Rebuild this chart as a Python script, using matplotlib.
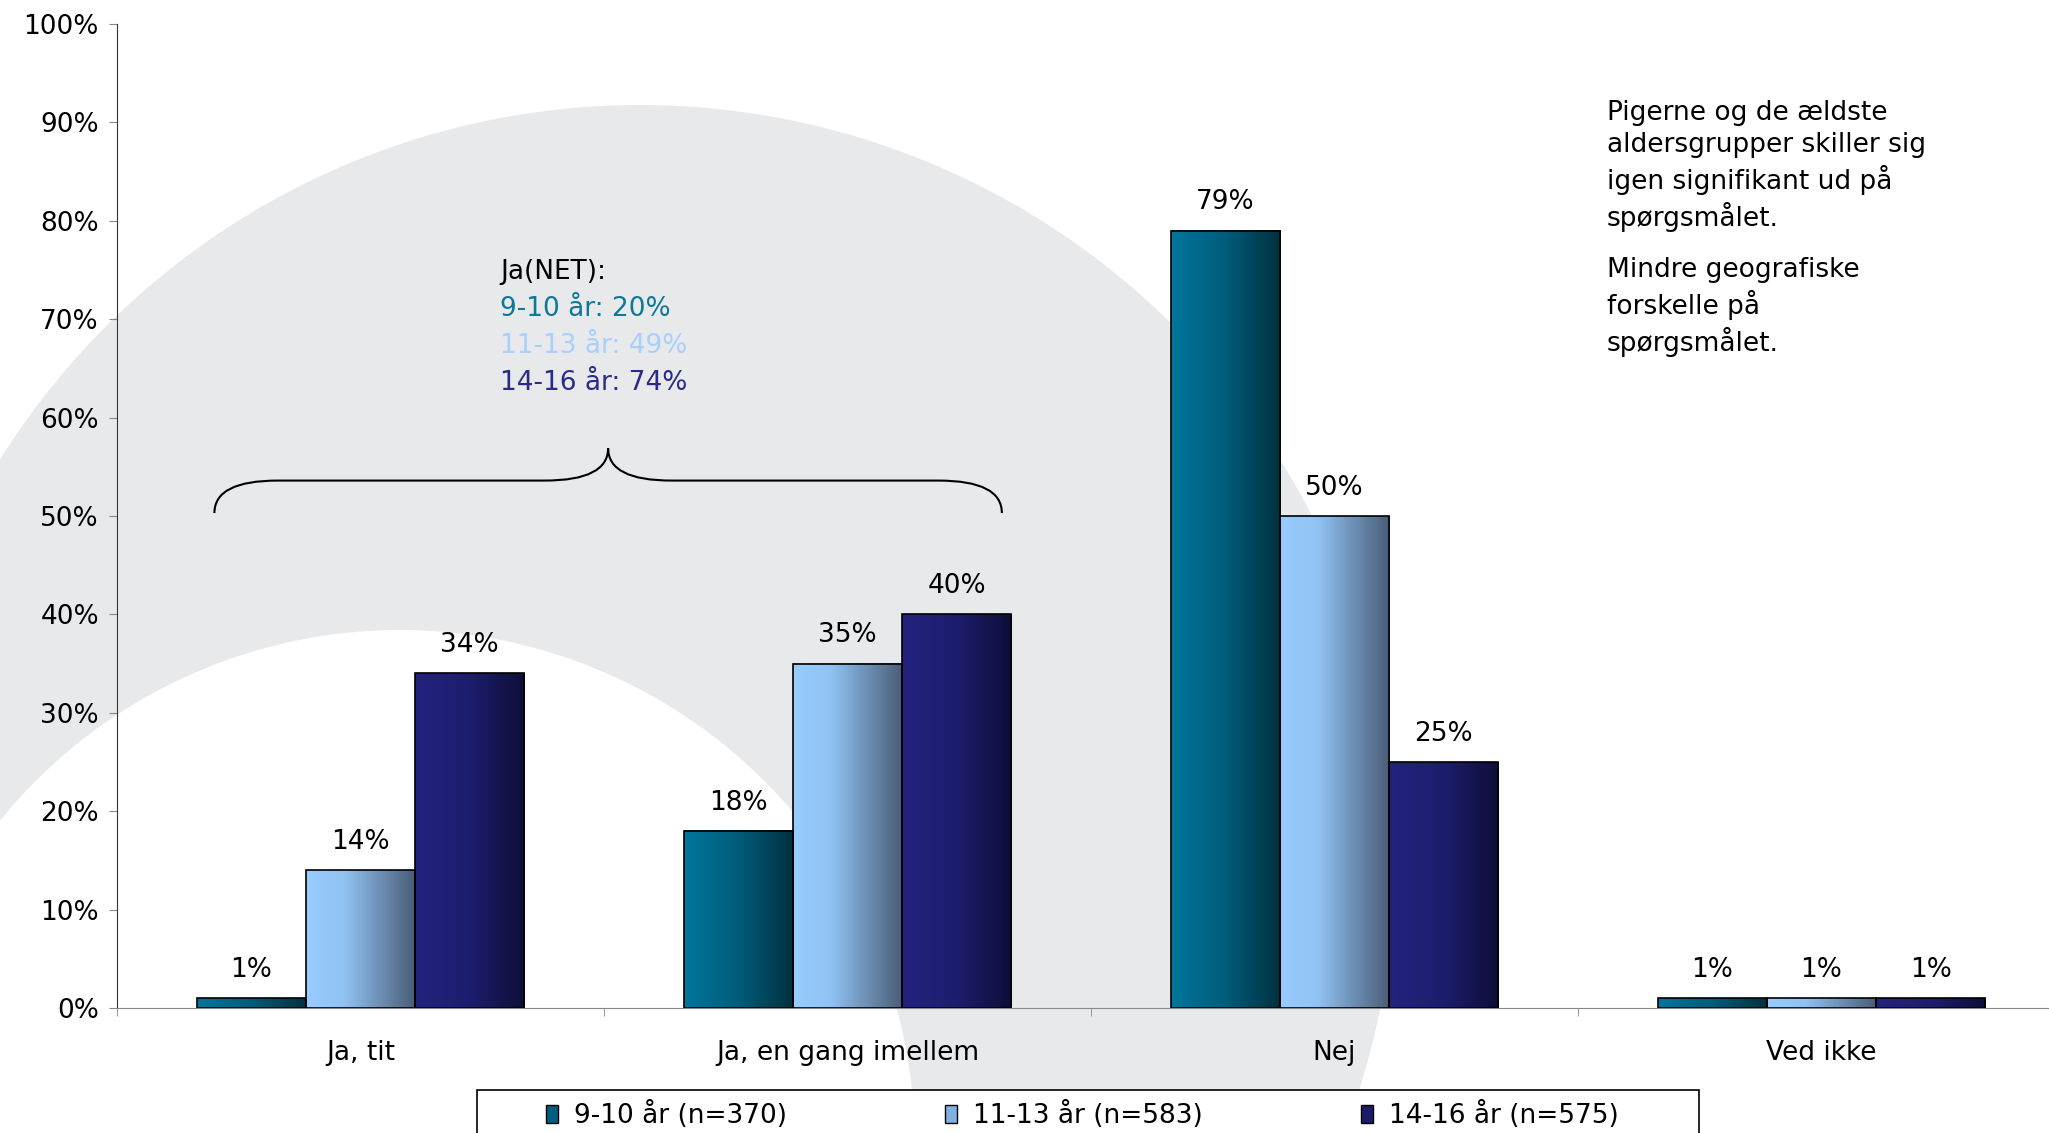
import numpy as np
import matplotlib
matplotlib.use('Agg')
import matplotlib.pyplot as plt
from matplotlib.colors import LinearSegmentedColormap
from matplotlib.patches import Ellipse, Rectangle, Patch, PathPatch
from matplotlib.path import Path

# Data
categories = ['Ja, tit', 'Ja, en gang imellem', 'Nej', 'Ved ikke']
series_labels = ['9-10 år (n=370)', '11-13 år (n=583)', '14-16 år (n=575)']
age_9_10 = [1, 18, 79, 1]
age_11_13 = [14, 35, 50, 1]
age_14_16 = [34, 40, 25, 1]
net_labels = ['9-10 år: 20%', '11-13 år: 49%', '14-16 år: 74%']
note_1 = 'Pigerne og de ældste\naldersgrupper skiller sig\nigen signifikant ud på\nspørgsmålet.'
note_2 = 'Mindre geografiske\nforskelle på\nspørgsmålet.'

W, H = 2049, 1133
plt.rcParams['font.family'] = ['DejaVu Sans']
FS = 19

fig = plt.figure(figsize=(W / 100, H / 100), dpi=100)

# grey watermark ring in the background
fig.patches.append(Ellipse((640 / W, 1 - 860 / H), 2 * 755 / W, 2 * 755 / H,
                           transform=fig.transFigure, facecolor='#e8e9eb',
                           edgecolor='none', zorder=-10))
fig.patches.append(Ellipse((400 / W, 1 - 1145 / H), 2 * 515 / W, 2 * 515 / H,
                           transform=fig.transFigure, facecolor='white',
                           edgecolor='none', zorder=-9))

ax = fig.add_axes([117 / W, 1 - 1008 / H, 1948 / W, 984 / H])
ax.patch.set_visible(False)

cmaps = [
    LinearSegmentedColormap.from_list('s1', ['#00769c', '#005c7a', '#00303e']),
    LinearSegmentedColormap.from_list('s2', [(0, '#99ccff'), (0.35, '#90c2f3'), (1, '#4a5c76')]),
    LinearSegmentedColormap.from_list('s3', ['#23237f', '#1d1d6e', '#0e0e38']),
]
solid = ['#005f80', '#80b0e0', '#1c1c6a']
text_cols = ['#0e7897', '#a8d0ff', '#2a2a88']

x = np.arange(len(categories))
bw = 0.224
grad = np.linspace(0, 1, 256).reshape(1, -1)
for i, vals in enumerate([age_9_10, age_11_13, age_14_16]):
    bars = ax.bar(x + (i - 1) * bw, vals, bw, facecolor='none', edgecolor='black',
                  linewidth=1.2, zorder=3)
    for b, v in zip(bars, vals):
        bx, bwid, bh = b.get_x(), b.get_width(), b.get_height()
        ax.imshow(grad, extent=(bx, bx + bwid, 0, bh), cmap=cmaps[i], aspect='auto',
                  interpolation='bicubic', zorder=2)
        ax.annotate(f'{v}%', (bx + bwid / 2, bh), xytext=(0, 11), textcoords='offset points',
                    ha='center', va='bottom', fontsize=FS)

ax.set_xlim(-0.5, len(categories) - 0.5)
ax.set_ylim(0, 100)
ax.set_yticks(np.arange(0, 101, 10))
ax.set_yticklabels([f'{t}%' for t in range(0, 101, 10)], fontsize=FS)
ax.set_xticks(x)
ax.set_xticklabels(categories, fontsize=FS)
ax.set_xticks(np.arange(-0.5, len(categories), 1), minor=True)
ax.tick_params(axis='x', which='major', length=0, pad=23)
ax.tick_params(axis='x', which='minor', length=6, color='#888888', direction='out')
ax.tick_params(axis='y', length=6, color='#888888', pad=7)
for s in ['top', 'right']:
    ax.spines[s].set_visible(False)
ax.spines['left'].set_color('#333333')
ax.spines['bottom'].set_color('#888888')

# curly brace over the "Ja" groups
x0, x1 = -0.30, 1.317
xm = (x0 + x1) / 2
y_end, y_line, y_cusp = 50.3, 53.6, 56.9
dx = 0.13
verts = [(x0, y_end), (x0, y_line), (x0 + dx, y_line),
         (xm - dx, y_line), (xm, y_line), (xm, y_cusp),
         (xm, y_line), (xm + dx, y_line),
         (x1 - dx, y_line), (x1, y_line), (x1, y_end)]
codes = [Path.MOVETO, Path.CURVE3, Path.CURVE3,
         Path.LINETO, Path.CURVE3, Path.CURVE3,
         Path.CURVE3, Path.CURVE3,
         Path.LINETO, Path.CURVE3, Path.CURVE3]
ax.add_patch(PathPatch(Path(verts, codes), facecolor='none', edgecolor='black', lw=1.5, zorder=4))

# Ja(NET) text block
fig.text(500 / W, 1 - 272 / H, 'Ja(NET):', fontsize=FS, va='center', ha='left', color='black')
for k, (lab, c) in enumerate(zip(net_labels, text_cols)):
    fig.text(500 / W, 1 - (308.5 + 37.5 * k) / H, lab, fontsize=FS, va='center', ha='left', color=c)

# side notes
fig.text(1607 / W, 1 - 166 / H, note_1, fontsize=FS, va='center', ha='left', linespacing=1.3)
fig.text(1607 / W, 1 - 307 / H, note_2, fontsize=FS, va='center', ha='left', linespacing=1.3)

# legend with its frame running off the bottom edge
fig.patches.append(Rectangle((477 / W, -0.05), 1222 / W, 0.05 + 1 - 1090 / H,
                             transform=fig.transFigure, facecolor='white',
                             edgecolor='black', lw=1.2, zorder=1))
handles = [Patch(facecolor=c, edgecolor='black', lw=1) for c in solid]
fig.legend(handles, series_labels, loc='center left', bbox_to_anchor=(546 / W, 1 - 1115 / H),
           ncol=3, frameon=False, fontsize=FS, handlelength=0.45, handleheight=0.65,
           handletextpad=0.6, columnspacing=6.0, borderpad=0, borderaxespad=0)

fig.savefig('out.png', dpi=100)
